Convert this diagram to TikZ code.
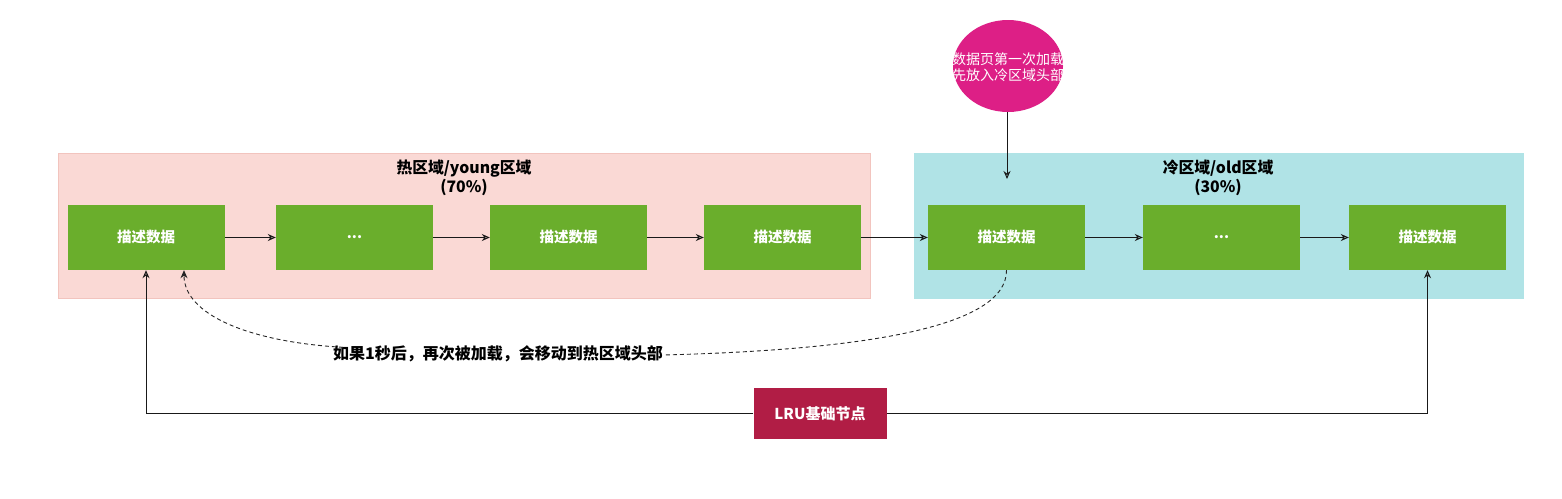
\documentclass[tikz,border=0pt]{standalone}
\usepackage{fontspec}
\setmainfont{Noto Sans CJK SC}
\usetikzlibrary{arrows.meta,positioning,calc,shapes.geometric}
\definecolor{hotfill}{HTML}{FAD9D5}
\definecolor{hotline}{HTML}{F2C4BE}
\definecolor{coldfill}{HTML}{B0E3E6}
\definecolor{boxgreen}{HTML}{6AAE2C}
\definecolor{magenta}{HTML}{DD1F86}
\definecolor{lrured}{HTML}{B11D45}
\tikzset{
  databox/.style={fill=boxgreen, minimum width=157pt, minimum height=65pt, inner sep=0pt,
    text=white, font=\fontsize{14.5pt}{16pt}\selectfont\bfseries},
  regionlabel/.style={align=center, font=\fontsize{15.8pt}{19pt}\selectfont\bfseries, inner sep=0pt},
  arr/.style={draw=black!90, line width=1pt, -{Stealth[open, length=8pt, width=7pt]}},
  dasharr/.style={draw=black!85, line width=0.9pt, dash pattern=on 4pt off 3pt},
}
\begin{document}
\begin{tikzpicture}[x=1pt,y=-1pt]
\useasboundingbox (0,0) rectangle (1562,498);
% regions
\draw[fill=hotfill, draw=hotline, line width=0.8pt] (58,153) rectangle (870,298);
\draw[fill=coldfill, draw=coldfill, line width=0.8pt] (914,153) rectangle (1523,298);
\node[regionlabel] (hotlbl) at (464,178) {热区域/young区域\\(70\%)};
\node[regionlabel] (coldlbl) at (1218,178) {冷区域/old区域\\(30\%)};
% data boxes
\node[databox] (b1) at (146,237.5) {描述数据};
\node[databox] (b2) at (354.5,237.5) {...};
\node[databox] (b3) at (568.5,237.5) {描述数据};
\node[databox] (b4) at (782.5,237.5) {描述数据};
\node[databox] (b5) at (1006.5,237.5) {描述数据};
\node[databox] (b6) at (1221.5,237.5) {...};
\node[databox] (b7) at (1427.5,237.5) {描述数据};
\foreach \a/\b in {b1/b2,b2/b3,b3/b4,b4/b5,b5/b6,b6/b7}
  \draw[arr] (\a.east) -- (\b.west);
% new page circle
\node[ellipse, fill=magenta, minimum width=110pt, minimum height=92pt, inner sep=0pt] (newpg) at (1008,66) {};
\node[align=center, text=white, inner sep=0pt, font=\fontsize{14pt}{15.5pt}\selectfont] (newpgtxt) at (1008,67)
  {数据页第一次加载\\先放入冷区域头部};
\coordinate (coldhead) at (1007,179);
\draw[arr] (newpg.south -| coldhead) -- (coldhead);
% LRU node
\node[fill=lrured, minimum width=133pt, minimum height=51pt, inner sep=0pt, text=white,
  font=\fontsize{15pt}{16pt}\selectfont\bfseries] (lru) at (820,413.5) {LRU基础节点};
\draw[arr] (lru.west) -| (b1.south);
\draw[arr] (lru.east) -| (b7.south);
% dashed move-back edge
\node[inner sep=0pt, font=\fontsize{16pt}{17pt}\selectfont\bfseries, text height=12pt, text depth=3pt] (movelbl) at (498,355)
  {如果1秒后，再次被加载，会移动到热区域头部};
\coordinate (b1in) at ($(b1.south)+(38,0)$);
\draw[dasharr] (b5.south) .. controls (1007,328) and (860,350) .. (movelbl.east);
\draw[dasharr, -{Stealth[length=8pt, width=7pt]}] ([xshift=10pt]movelbl.north west) .. controls (250,342) and (184,315) .. (b1in);
\end{tikzpicture}
\end{document}
